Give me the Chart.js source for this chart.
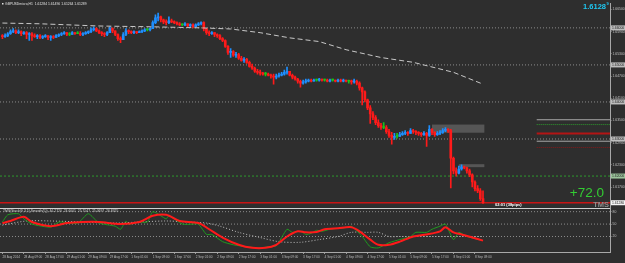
<!DOCTYPE html>
<html>
<head>
<meta charset="utf-8">
<style>
  html, body { margin: 0; padding: 0; background: #2e2e2e; }
  canvas { display: block; }
</style>
</head>
<body>
<canvas id="chart" width="625" height="263"></canvas>
<script src="https://cdn.jsdelivr.net/npm/chart.js@4/dist/chart.umd.min.js"></script>
<script>
// GBPUSD H1, 28 Aug - 8 Sep 2014, one label every 8 bars
const timeLabels = ['28 Aug 2014', '28 Aug 09:00', '28 Aug 17:00', '29 Aug 01:00', '29 Aug 09:00', '29 Aug 17:00',
  '1 Sep 01:00', '1 Sep 09:00', '1 Sep 17:00', '2 Sep 01:00', '2 Sep 09:00', '2 Sep 17:00',
  '3 Sep 01:00', '3 Sep 09:00', '3 Sep 17:00', '4 Sep 01:00', '4 Sep 09:00', '4 Sep 17:00',
  '5 Sep 01:00', '5 Sep 09:00', '5 Sep 17:00', '8 Sep 01:00', '8 Sep 09:00'];

const firstOpen = 1.6579;
const close = [
  1.6576, 1.6579, 1.6584, 1.6590, 1.6592, 1.6587, 1.6590, 1.6584, 1.6587, 1.6582,
  1.6584, 1.6579, 1.6576, 1.6579, 1.6574, 1.6576, 1.6579, 1.6574, 1.6576, 1.6574,
  1.6579, 1.6582, 1.6584, 1.6587, 1.6582, 1.6582, 1.6587, 1.6584, 1.6584, 1.6582,
  1.6584, 1.6587, 1.6590, 1.6595, 1.6598, 1.6592, 1.6587, 1.6584, 1.6582, 1.6587,
  1.6598, 1.6592, 1.6582, 1.6571, 1.6568, 1.6582, 1.6592, 1.6590, 1.6587, 1.6590,
  1.6587, 1.6590, 1.6592, 1.6595, 1.6595, 1.6598, 1.6614, 1.6627, 1.6630, 1.6622,
  1.6616, 1.6614, 1.6619, 1.6616, 1.6614, 1.6611, 1.6608, 1.6608, 1.6611, 1.6606,
  1.6608, 1.6603, 1.6608, 1.6611, 1.6614, 1.6598, 1.6587, 1.6584, 1.6587, 1.6582,
  1.6579, 1.6571, 1.6566, 1.6550, 1.6534, 1.6536, 1.6526, 1.6528, 1.6518, 1.6512,
  1.6515, 1.6507, 1.6496, 1.6491, 1.6483, 1.6480, 1.6478, 1.6475, 1.6475, 1.6472,
  1.6470, 1.6467, 1.6470, 1.6472, 1.6475, 1.6480, 1.6483, 1.6472, 1.6467, 1.6462,
  1.6456, 1.6451, 1.6454, 1.6456, 1.6459, 1.6456, 1.6459, 1.6459, 1.6462, 1.6459,
  1.6459, 1.6456, 1.6459, 1.6459, 1.6456, 1.6459, 1.6456, 1.6459, 1.6456, 1.6456,
  1.6454, 1.6456, 1.6451, 1.6438, 1.6427, 1.6406, 1.6384, 1.6368, 1.6358, 1.6344,
  1.6336, 1.6331, 1.6331, 1.6320, 1.6310, 1.6304, 1.6307, 1.6307, 1.6312, 1.6315,
  1.6318, 1.6315, 1.6323, 1.6320, 1.6318, 1.6315, 1.6312, 1.6315, 1.6310, 1.6326,
  1.6318, 1.6312, 1.6315, 1.6318, 1.6323, 1.6326, 1.6323, 1.6248, 1.6214, 1.6208,
  1.6219, 1.6224, 1.6222, 1.6214, 1.6203, 1.6184, 1.6166, 1.6160, 1.6139, 1.6128
];
const high = [
  1.6582, 1.6584, 1.6587, 1.6595, 1.6598, 1.6595, 1.6595, 1.6592, 1.6590, 1.6590,
  1.6587, 1.6587, 1.6584, 1.6582, 1.6582, 1.6579, 1.6582, 1.6579, 1.6579, 1.6579,
  1.6582, 1.6584, 1.6587, 1.6590, 1.6587, 1.6587, 1.6590, 1.6587, 1.6590, 1.6590,
  1.6587, 1.6590, 1.6592, 1.6600, 1.6603, 1.6600, 1.6595, 1.6590, 1.6587, 1.6590,
  1.6603, 1.6600, 1.6592, 1.6584, 1.6576, 1.6587, 1.6598, 1.6595, 1.6592, 1.6592,
  1.6590, 1.6592, 1.6595, 1.6598, 1.6598, 1.6600, 1.6619, 1.6635, 1.6640, 1.6632,
  1.6624, 1.6622, 1.6630, 1.6624, 1.6619, 1.6616, 1.6614, 1.6611, 1.6614, 1.6611,
  1.6611, 1.6611, 1.6611, 1.6614, 1.6616, 1.6616, 1.6598, 1.6592, 1.6590, 1.6587,
  1.6584, 1.6582, 1.6574, 1.6568, 1.6552, 1.6544, 1.6539, 1.6534, 1.6531, 1.6523,
  1.6520, 1.6518, 1.6510, 1.6502, 1.6494, 1.6488, 1.6486, 1.6480, 1.6480, 1.6478,
  1.6475, 1.6475, 1.6475, 1.6478, 1.6480, 1.6486, 1.6494, 1.6483, 1.6475, 1.6470,
  1.6464, 1.6459, 1.6459, 1.6462, 1.6462, 1.6462, 1.6462, 1.6462, 1.6464, 1.6462,
  1.6462, 1.6462, 1.6462, 1.6462, 1.6459, 1.6462, 1.6462, 1.6462, 1.6459, 1.6459,
  1.6459, 1.6462, 1.6459, 1.6454, 1.6440, 1.6430, 1.6408, 1.6390, 1.6374, 1.6363,
  1.6352, 1.6342, 1.6344, 1.6336, 1.6326, 1.6318, 1.6315, 1.6315, 1.6318, 1.6320,
  1.6323, 1.6320, 1.6328, 1.6326, 1.6323, 1.6320, 1.6318, 1.6320, 1.6318, 1.6336,
  1.6328, 1.6320, 1.6320, 1.6323, 1.6328, 1.6331, 1.6328, 1.6326, 1.6251, 1.6222,
  1.6227, 1.6230, 1.6227, 1.6224, 1.6219, 1.6206, 1.6187, 1.6174, 1.6166, 1.6160
];
const low = [
  1.6571, 1.6574, 1.6576, 1.6582, 1.6587, 1.6584, 1.6584, 1.6579, 1.6582, 1.6571,
  1.6566, 1.6566, 1.6574, 1.6571, 1.6571, 1.6571, 1.6574, 1.6568, 1.6566, 1.6571,
  1.6574, 1.6576, 1.6579, 1.6582, 1.6579, 1.6579, 1.6582, 1.6582, 1.6584, 1.6579,
  1.6579, 1.6582, 1.6584, 1.6587, 1.6592, 1.6590, 1.6584, 1.6579, 1.6576, 1.6579,
  1.6587, 1.6587, 1.6579, 1.6566, 1.6560, 1.6568, 1.6579, 1.6584, 1.6584, 1.6584,
  1.6584, 1.6587, 1.6587, 1.6590, 1.6592, 1.6592, 1.6598, 1.6611, 1.6619, 1.6616,
  1.6611, 1.6608, 1.6611, 1.6614, 1.6611, 1.6608, 1.6606, 1.6606, 1.6606, 1.6603,
  1.6603, 1.6600, 1.6603, 1.6606, 1.6608, 1.6592, 1.6582, 1.6579, 1.6582, 1.6576,
  1.6574, 1.6568, 1.6563, 1.6547, 1.6528, 1.6520, 1.6523, 1.6520, 1.6515, 1.6510,
  1.6507, 1.6504, 1.6494, 1.6488, 1.6480, 1.6475, 1.6472, 1.6472, 1.6470, 1.6470,
  1.6464, 1.6448, 1.6462, 1.6467, 1.6470, 1.6472, 1.6475, 1.6470, 1.6462, 1.6459,
  1.6451, 1.6440, 1.6448, 1.6451, 1.6454, 1.6454, 1.6456, 1.6456, 1.6456, 1.6456,
  1.6456, 1.6454, 1.6454, 1.6456, 1.6454, 1.6454, 1.6454, 1.6454, 1.6454, 1.6451,
  1.6448, 1.6451, 1.6446, 1.6432, 1.6392, 1.6400, 1.6379, 1.6342, 1.6352, 1.6339,
  1.6331, 1.6326, 1.6328, 1.6315, 1.6304, 1.6286, 1.6299, 1.6302, 1.6307, 1.6310,
  1.6312, 1.6310, 1.6315, 1.6315, 1.6312, 1.6310, 1.6307, 1.6310, 1.6280, 1.6307,
  1.6312, 1.6307, 1.6310, 1.6312, 1.6315, 1.6320, 1.6318, 1.6168, 1.6206, 1.6200,
  1.6206, 1.6216, 1.6219, 1.6208, 1.6198, 1.6171, 1.6160, 1.6155, 1.6134, 1.6126
];

// slow moving average (dashed)
const maIdx = [0, 14, 36, 55, 74, 85, 96, 107, 118, 128, 141, 153, 168, 179];
const maVal = [1.6613, 1.6611, 1.6605, 1.6603, 1.6600, 1.6597, 1.6587, 1.6573, 1.6563, 1.6541, 1.6520, 1.6507, 1.6480, 1.6448];

// TMS oscillator lines
const mainIdx = [0, 2, 6, 8, 11, 18, 21, 28, 32, 36, 42, 44, 46, 47, 51, 54, 56, 59, 61, 62,
  67, 71, 73, 76, 78, 82, 86, 91, 96, 99, 102, 106, 108, 111, 113, 115, 117, 119, 122, 129,
  130, 134, 137, 140, 144, 148, 152, 154, 158, 160, 163, 165, 168, 170, 173, 176, 179];
const mainVal = [55, 72.5, 75, 62.5, 50, 42.5, 55, 52.5, 75, 52.5, 45, 37.5, 57.5, 50, 55, 55, 80, 70, 62.5, 70,
  50, 50, 50, 25, 25, 7.5, 0, -5, -7.5, -5, -2.5, 37.5, 30, 32.5, 25, 27.5, 35, 32.5, 37.5, 42.5,
  45, 20, -5, -7.5, 5, 12.5, 20, 30, 30, 37.5, 45, 50, 12.5, 30, 20, 15, 10];
const signalIdx = [0, 3, 8, 11, 18, 24, 30, 36, 44, 51, 56, 61, 66, 73, 77, 82, 88, 93, 98, 102,
  106, 110, 113, 117, 120, 125, 130, 133, 137, 140, 144, 148, 153, 158, 163, 165, 168, 171, 175, 179];
const signalVal = [52.5, 57.5, 67.5, 55, 45, 52.5, 55, 55, 50, 55, 70, 72.5, 57.5, 52.5, 37.5, 17.5, 0, -7.5, -7.5, 0,
  20, 32.5, 30, 31, 37.5, 40, 42.5, 32.5, 12.5, 0, 0, 7.5, 20, 25, 32.5, 42.5, 30, 25, 17.5, 10];
const slowIdx = [0, 9, 18, 30, 42, 51, 61, 69, 76, 81, 88, 96, 103, 111, 118, 125, 130, 136, 140, 144, 148, 154, 160, 167, 171, 179];
const slowVal = [47.5, 57.5, 57.5, 55, 52.5, 55, 57.5, 55, 52.5, 45, 30, 17.5, 7.5, 6, 12.5, 20, 30, 30, 30, 20, 20, 20, 20, 20, 20, 20];

const priceTicks = [1.665, 1.662, 1.659, 1.656, 1.653, 1.650, 1.647, 1.644, 1.641, 1.638, 1.635, 1.632, 1.629, 1.626, 1.623, 1.620, 1.617, 1.614];
const oscTicks = [80, 50, 20];
const roundLevels = [1.66, 1.65, 1.64, 1.63];
const supportLevel = 1.62;
const lastPrice = 1.6128;
const sideLevels = [1.6352, 1.6339, 1.6315, 1.6294, 1.6277];
const zones = [[160, 179.5, 1.6339, 1.6317], [170, 179.5, 1.6232, 1.6224]];

const X_MIN = -0.9, X_MAX = 226.3, SIDE_FROM = 199;

const open = close.map((c, i) => (i === 0 ? firstOpen : close[i - 1]));
const bars = close.map((c, i) => i);
function candleColor(i) {
  if (close[i] > open[i]) return '#1e8fff';
  if (close[i] < open[i]) return '#ff1a1a';
  return '#19c219';
}

function hline(price, from, to, color, dash, width, axis) {
  return {
    type: 'line',
    data: [{ x: from, y: price }, { x: to, y: price }],
    borderColor: color, borderDash: dash, borderWidth: width,
    pointRadius: 0, yAxisID: axis || 'y', order: 20
  };
}
function pts(idx, val) {
  return idx.map((x, k) => ({ x: x, y: val[k] }));
}

const datasets = [];
roundLevels.forEach(p => datasets.push(hline(p, X_MIN, X_MAX, '#8c8c8c', [1, 2], 1)));
datasets.push(hline(supportLevel, X_MIN, X_MAX, '#2e9a2e', [2, 2], 1));
datasets.push(hline(lastPrice, X_MIN, X_MAX, '#c81414', [], 1.3));
datasets.push(hline(sideLevels[0], SIDE_FROM, X_MAX, '#a8a8a8', [], 1));
datasets.push(hline(sideLevels[1], SIDE_FROM, X_MAX, '#2e9a2e', [1, 1], 1));
datasets.push(hline(sideLevels[2], SIDE_FROM, X_MAX, '#b41414', [], 2));
datasets.push(hline(sideLevels[3], SIDE_FROM, X_MAX, '#a8a8a8', [], 1));
datasets.push(hline(sideLevels[4], SIDE_FROM, X_MAX, '#8a1a1a', [1, 1], 1));
oscTicks.forEach(v => datasets.push(hline(v, X_MIN, X_MAX, '#8c8c8c', [1, 2], 1, 'y2')));

datasets.push({
  type: 'bar',
  data: bars.map(i => ({ x: i, y: [low[i], high[i]] })),
  backgroundColor: bars.map(candleColor),
  barThickness: 1, grouped: false, yAxisID: 'y', order: 8
});
datasets.push({
  type: 'bar',
  data: bars.map(i => ({ x: i, y: [open[i], close[i]] })),
  backgroundColor: bars.map(candleColor),
  barThickness: 2, minBarLength: 1, grouped: false, yAxisID: 'y', order: 7
});
datasets.push({
  type: 'line', data: pts(maIdx, maVal),
  borderColor: '#c8c8c8', borderDash: [5, 3], borderWidth: 1, pointRadius: 0, yAxisID: 'y', order: 5
});
datasets.push({
  type: 'line', data: pts(slowIdx, slowVal),
  borderColor: '#bdbdbd', borderDash: [1, 2], borderWidth: 1, pointRadius: 0, tension: 0.3, yAxisID: 'y2', order: 4
});
datasets.push({
  type: 'line', data: pts(mainIdx, mainVal),
  borderColor: '#1f9a1f', borderWidth: 1, pointRadius: 0, tension: 0.2, yAxisID: 'y2', order: 3
});
datasets.push({
  type: 'line', data: pts(signalIdx, signalVal),
  borderColor: '#ff1a1a', borderWidth: 2, pointRadius: 0, tension: 0.3, yAxisID: 'y2', order: 2
});

const overlay = {
  id: 'overlay',
  beforeDraw(chart) {
    const ctx = chart.ctx;
    ctx.save();
    ctx.fillStyle = '#2e2e2e';
    ctx.fillRect(0, 0, chart.width, chart.height);
    ctx.restore();
  },
  beforeDatasetsDraw(chart) {
    const { ctx, scales: { x, y } } = chart;
    ctx.save();
    ctx.fillStyle = 'rgba(120,120,120,0.55)';
    zones.forEach(z => {
      const x0 = x.getPixelForValue(z[0]), x1 = x.getPixelForValue(z[1]);
      const y0 = y.getPixelForValue(z[2]), y1 = y.getPixelForValue(z[3]);
      ctx.fillRect(x0, y0, x1 - x0, y1 - y0);
    });
    ctx.restore();
  },
  afterDraw(chart) {
    const { ctx, scales: { y, y2 } } = chart;
    ctx.save();
    // pane separator
    ctx.strokeStyle = '#d0d0d0';
    ctx.lineWidth = 1;
    ctx.beginPath();
    ctx.moveTo(0, Math.round(y2.top) + 0.5);
    ctx.lineTo(y.left, Math.round(y2.top) + 0.5);
    ctx.stroke();

    // highlighted prices on the axis
    ctx.textBaseline = 'middle';
    ctx.textAlign = 'left';
    ctx.font = '3.4px Arial';
    const tags = roundLevels.map(p => [p, '#bdbdbd']).concat([[supportLevel, '#9cc49c'], [lastPrice, '#f4f4f4']]);
    tags.forEach(([p, bg]) => {
      const py = y.getPixelForValue(p);
      ctx.fillStyle = bg;
      ctx.fillRect(y.left + 1, py - 2.5, 14, 5);
      ctx.fillStyle = '#202020';
      ctx.fillText(p.toFixed(5), y.left + 2, py);
    });

    // header texts
    ctx.fillStyle = '#e0e0e0';
    ctx.fillRect(2, 3, 1.5, 1.5);
    ctx.font = '3.4px Arial';
    ctx.fillText('GBPUSDmicro,H1  1.61284 1.61490 1.61264 1.61289', 5, 4);
    ctx.fillStyle = '#d0d0d0';
    ctx.fillText('TMS(Stoch(9,3,5),Smooth(5))  46.2720  23.6001  25.7547  25.0697  26.8325', 3, y2.top + 4);

    ctx.textBaseline = 'alphabetic';
    ctx.textAlign = 'right';
    ctx.fillStyle = '#1ec8f2';
    ctx.font = 'bold 7.5px Arial';
    ctx.fillText('1.6128', 606, 8.5);
    ctx.font = 'bold 4px Arial';
    ctx.textAlign = 'left';
    ctx.fillText('9', 606.5, 5);

    ctx.textAlign = 'right';
    ctx.fillStyle = '#33cc33';
    ctx.font = '13.5px Arial';
    ctx.fillText('+72.0', 604, 197);
    ctx.fillStyle = '#8e8e8e';
    ctx.font = 'bold 7.5px Arial';
    ctx.fillText('TMS', 609, 206.5);

    ctx.textAlign = 'left';
    ctx.fillStyle = '#ffffff';
    ctx.font = 'bold 4px Arial';
    ctx.fillText('02:01 (38pips)', 495, 206);
    ctx.restore();
  }
};

Chart.defaults.font.family = 'Arial, "Liberation Sans", sans-serif';

new Chart(document.getElementById('chart'), {
  type: 'bar',
  data: { datasets: datasets },
  options: {
    responsive: false,
    animation: false,
    devicePixelRatio: 1,
    layout: { padding: 0 },
    plugins: { legend: { display: false }, tooltip: { enabled: false } },
    scales: {
      x: {
        type: 'linear', min: X_MIN, max: X_MAX, offset: false,
        afterBuildTicks: s => { s.ticks = timeLabels.map((t, k) => ({ value: k * 8 })); },
        afterFit: s => { s.height = 11; },
        ticks: {
          autoSkip: false, maxRotation: 0, minRotation: 0, align: 'start', padding: 1.5,
          color: '#bdbdbd', font: { size: 3.1 },
          callback: v => timeLabels[Math.round(v / 8)]
        },
        grid: { display: true, drawOnChartArea: false, offset: false, tickLength: 2, color: '#9a9a9a' },
        border: { color: '#a8a8a8' }
      },
      y: {
        position: 'right', stack: 'pane', stackWeight: 207,
        min: 1.6115, max: 1.6667, beginAtZero: false,
        afterBuildTicks: s => { s.ticks = priceTicks.map(v => ({ value: v })); },
        afterFit: s => { s.width = 15; },
        ticks: { color: '#c0c0c0', font: { size: 3.4 }, padding: 1, callback: v => v.toFixed(5) },
        grid: { display: true, drawOnChartArea: false, tickLength: 1.5, color: '#9a9a9a' },
        border: { color: '#a8a8a8' }
      },
      y2: {
        position: 'right', stack: 'pane', stackWeight: 45,
        min: -17.5, max: 90,
        afterBuildTicks: s => { s.ticks = oscTicks.map(v => ({ value: v })); },
        afterFit: s => { s.width = 15; },
        ticks: { color: '#c0c0c0', font: { size: 3.4 }, padding: 1 },
        grid: { display: true, drawOnChartArea: false, tickLength: 1.5, color: '#9a9a9a' },
        border: { color: '#a8a8a8' }
      }
    }
  },
  plugins: [overlay]
});
</script>
</body>
</html>
